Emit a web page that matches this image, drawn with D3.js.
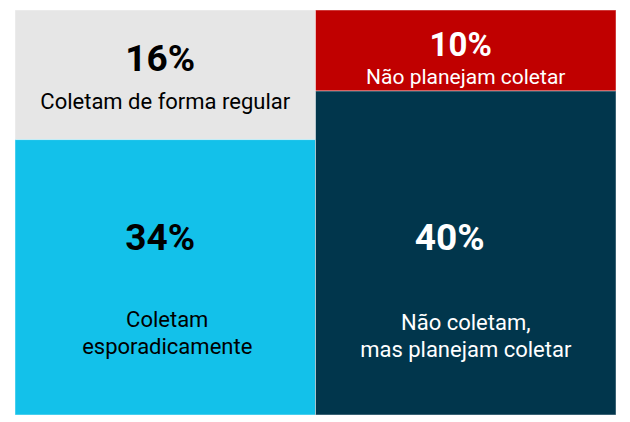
<!DOCTYPE html>
<html>
<head>
<meta charset="utf-8">
<script src="https://cdn.jsdelivr.net/npm/d3@7"></script>
<style>
  html, body { margin: 0; padding: 0; background: #ffffff; }
  svg { display: block; }
</style>
</head>
<body>
<svg id="chart" width="630" height="422"></svg>
<script>
// ---- data ----
const groups = ["esquerda", "direita"];
const categories = [
  "Coletam de forma regular",
  "Coletam esporadicamente",
  "Não planejam coletar",
  "Não coletam, mas planejam coletar"
];
const categoryGroup = ["esquerda", "esquerda", "direita", "direita"];
const values = [16, 34, 10, 40];
const valueLabels = ["16%", "34%", "10%", "40%"];
const labelLines = [
  ["Coletam de forma regular"],
  ["Coletam", "esporadicamente"],
  ["Não planejam coletar"],
  ["Não coletam,", "mas planejam coletar"]
];
const colors = ["#e6e6e6", "#13c1ea", "#c00000", "#01364c"];
const textColors = ["#000000", "#000000", "#ffffff", "#ffffff"];

// ---- layout ----
const box = { x0: 15, y0: 10, x1: 616, y1: 415 };

const rootData = {
  name: "root",
  children: groups.map(g => ({
    name: g,
    children: categories
      .map((c, i) => ({ name: c, idx: i, value: values[i] }))
      .filter((d, i) => categoryGroup[i] === g)
  }))
};

const root = d3.hierarchy(rootData).sum(d => d.value || 0);

d3.treemap()
  .tile(d3.treemapSliceDice)
  .size([box.x1 - box.x0, box.y1 - box.y0])
  .paddingInner(0)
  (root);

const svg = d3.select("#chart");
const g = svg.append("g").attr("transform", `translate(${box.x0},${box.y0})`);

const leaves = root.leaves();

g.selectAll("rect.cell")
  .data(leaves)
  .join("rect")
  .attr("class", "cell")
  .attr("x", d => d.x0)
  .attr("y", d => d.y0)
  .attr("width", d => d.x1 - d.x0)
  .attr("height", d => d.y1 - d.y0)
  .attr("fill", d => colors[d.data.idx])
  .attr("stroke", "#ffffff")
  .attr("stroke-opacity", 0.45)
  .attr("stroke-width", 1);

const fontFamily = "Roboto, 'Liberation Sans', Arial, sans-serif";

leaves.forEach(d => {
  const i = d.data.idx;
  const isTop = d.y0 === 0;
  const cx = (d.x0 + d.x1) / 2;
  let pctY, lineYs;
  if (isTop) {
    if (i === 0) { pctY = d.y0 + 61; lineYs = [d.y0 + 99]; }
    else { pctY = d.y0 + 46; lineYs = [d.y0 + 74]; }
  } else {
    const base = d.y1;
    pctY = base - 165;
    lineYs = labelLines[i].map((l, k) => base - (i === 1 ? 88 : 85) + k * 27);
  }
  const pctDx = (i === 3) ? -16 : -5;
  const pctSize = (i === 2) ? 33 : 37;
  const lblSize = (i === 2) ? 21 : 22;

  g.append("text")
    .attr("x", cx + pctDx)
    .attr("y", pctY)
    .attr("text-anchor", "middle")
    .attr("font-family", fontFamily)
    .attr("font-weight", "bold")
    .attr("font-size", pctSize)
    .attr("fill", textColors[i])
    .text(valueLabels[i]);
  labelLines[i].forEach((line, k) => {
    g.append("text")
      .attr("x", cx + (i === 1 ? 2 : 0))
      .attr("y", lineYs[k])
      .attr("text-anchor", "middle")
      .attr("font-family", fontFamily)
      .attr("font-size", lblSize)
      .attr("fill", textColors[i])
      .text(line);
  });
});
</script>
</body>
</html>
